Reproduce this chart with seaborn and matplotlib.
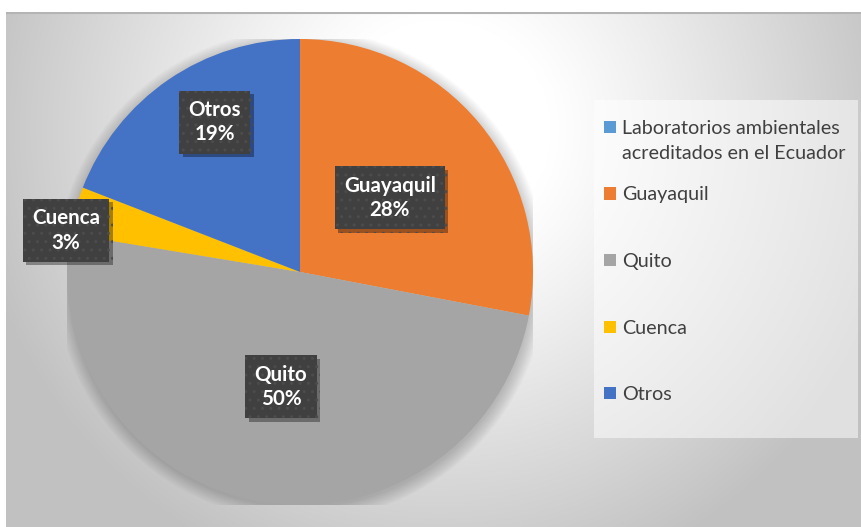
import numpy as np
import matplotlib
matplotlib.use("Agg")
import matplotlib.pyplot as plt
import seaborn as sns
from matplotlib.patches import Rectangle, Circle
import matplotlib.patheffects as pe

# ---------------- data ----------------
categories = ["Laboratorios ambientales\nacreditados en el Ecuador",
              "Guayaquil", "Quito", "Cuenca", "Otros"]
values = [0, 28.0, 49.6, 3.3, 19.1]
colors = ["#5B9BD5", "#ED7D31", "#A5A5A5", "#FFC000", "#4472C4"]

# label layout (radius fraction, angle shift in degrees)
label_r = [0.5, 0.5, 0.5, 1.02, 0.74]
label_shift = [0, 0, 0.7, 5.2, -4.8]

sns.set_theme(style="white")
palette = sns.color_palette(colors)
plt.rcParams['font.family'] = ['Lato', 'DejaVu Sans']

W, H = 861, 527
fig = plt.figure(figsize=(W / 100, H / 100), dpi=100)
fig.patch.set_facecolor("white")

# ---------------- background gradient ----------------
bx0, by0, bx1, by1 = 6, 12, 861, 527
bg = fig.add_axes([bx0 / W, 1 - by1 / H, (bx1 - bx0) / W, (by1 - by0) / H])
yy, xx = np.mgrid[by0:by1, bx0:bx1]
d = np.hypot(xx - 440, yy - 130)
t = np.clip((d - 110) / 360, 0, 1)
val = 1 - (1 - 0.76) * t ** 1.1
img = np.dstack([val, val, val])
bg.imshow(img, extent=[0, 1, 0, 1], aspect="auto", origin="upper", interpolation="bilinear")
bg.set_xlim(0, 1)
bg.set_ylim(0, 1)
bg.plot([0, 1], [0.999, 0.999], color="#b4b4b4", lw=1.5, transform=bg.transAxes)
bg.axis("off")

# ---------------- pie ----------------
cx, cy, r = 300, 272, 233
ax = fig.add_axes([(cx - r) / W, 1 - (cy + r) / H, 2 * r / W, 2 * r / H])
ax.set_facecolor("none")
for k in range(10):
    ax.add_patch(Circle((0.004, -0.012), 1.0 + 0.006 * k, color="black",
                        alpha=0.018, lw=0, zorder=0))
wedges, _ = ax.pie(values, colors=palette, startangle=90, counterclock=False,
                   radius=1, wedgeprops=dict(linewidth=0))
ax.set_xlim(-1, 1)
ax.set_ylim(-1, 1)
ax.set_aspect("equal")
ax.axis("off")

total = sum(values)
for i, (w, name, v) in enumerate(zip(wedges, categories, values)):
    if v == 0:
        continue
    ang = np.deg2rad((w.theta1 + w.theta2) / 2 + label_shift[i])
    x = label_r[i] * np.cos(ang)
    y = label_r[i] * np.sin(ang)
    txt = ax.text(x, y, f"{name}\n{round(v / total * 100):.0f}%",
                  ha="center", va="center", color="white", fontsize=14.8,
                  fontweight="bold", linespacing=1.28, zorder=5,
                  bbox=dict(boxstyle="square,pad=0.45", facecolor="#404040",
                            edgecolor="#4c4c4c", hatch="..", linewidth=0))
    txt.get_bbox_patch().set_path_effects([
        pe.SimplePatchShadow(offset=(2.5, -2.5), shadow_rgbFace="black", alpha=0.35),
        pe.Normal()])

# ---------------- legend ----------------
lx0, ly0, lx1, ly1 = 594, 100, 858, 438
fig.patches.append(Rectangle((lx0 / W, 1 - ly1 / H), (lx1 - lx0) / W, (ly1 - ly0) / H,
                             transform=fig.transFigure, facecolor="white",
                             alpha=0.5, lw=0, zorder=1))
first_y = 127
step = 66.5
line_gap = 25
for i, (name, c) in enumerate(zip(categories, palette)):
    yc = first_y + i * step
    fig.patches.append(Rectangle((604 / W, 1 - (yc + 6) / H), 12 / W, 12 / H,
                                 transform=fig.transFigure, facecolor=c,
                                 lw=0, zorder=2))
    for j, line in enumerate(name.split("\n")):
        fig.text(622 / W, 1 - (yc + 7 + j * line_gap) / H, line, ha="left",
                 va="baseline", fontsize=14.2, color="#404040", zorder=3)

fig.savefig("out.png", dpi=100)
